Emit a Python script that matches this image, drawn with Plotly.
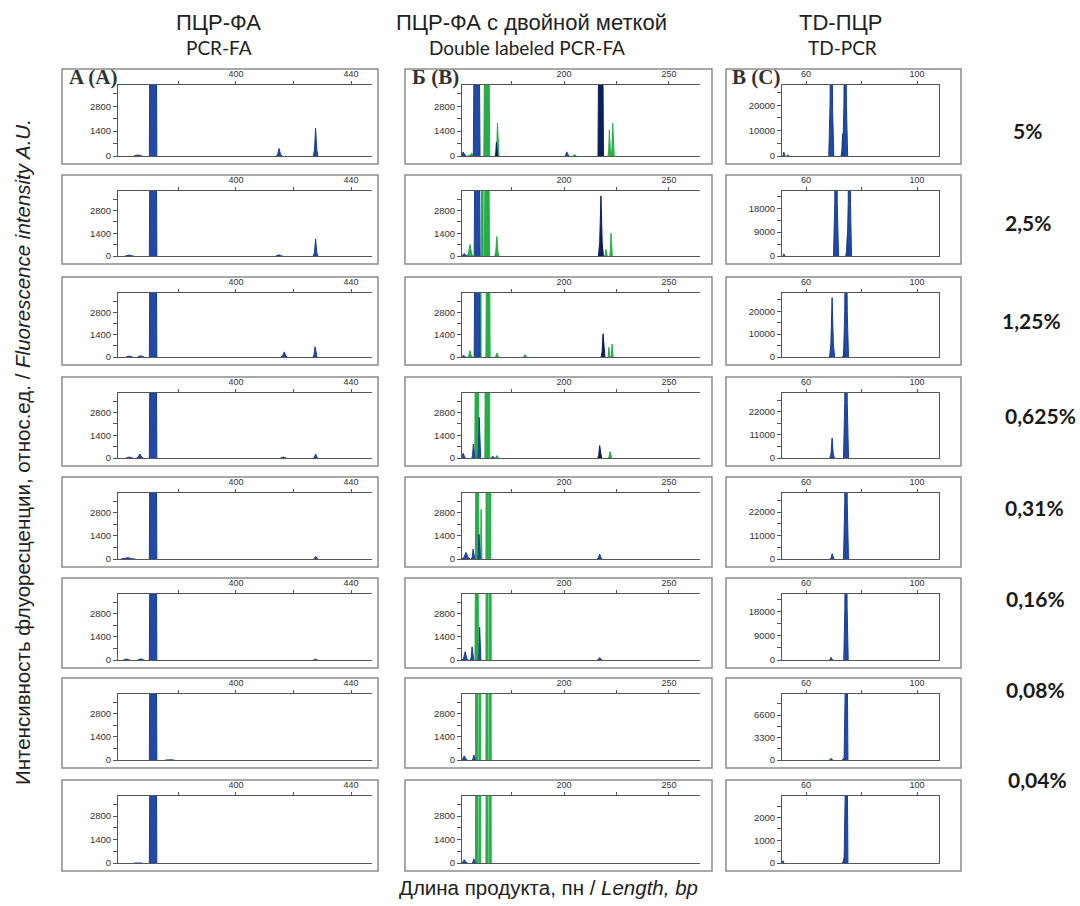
import plotly.graph_objects as go

W, H = 1080, 906

# ---------------------------------------------------------------- data
conc_labels = ["5%", "2,5%", "1,25%", "0,625%", "0,31%", "0,16%", "0,08%", "0,04%"]

# Peaks are (size in bp, height in RFU, half-width in bp)
pcrfa_blue = [
    [(366.0, 60, 1.5), (371.2, 100000, 1.3), (415.0, 420, 1.0), (427.7, 1560, 0.8)],
    [(363.0, 60, 1.5), (371.2, 100000, 1.3), (415.0, 70, 1.2), (427.7, 1050, 0.8)],
    [(363.0, 60, 1.2), (367.0, 80, 1.2), (371.2, 100000, 1.3), (416.8, 320, 1.1), (427.5, 640, 0.7)],
    [(363.0, 60, 1.2), (366.6, 250, 1.2), (371.2, 100000, 1.3), (416.5, 60, 1.0), (427.7, 250, 0.8)],
    [(362.5, 80, 2.5), (371.2, 100000, 1.3), (427.7, 150, 0.8)],
    [(362.0, 60, 1.2), (367.0, 70, 1.2), (371.2, 100000, 1.3), (427.7, 50, 0.8)],
    [(371.2, 100000, 1.3), (377.0, 40, 1.5)],
    [(366.0, 30, 1.5), (371.2, 100000, 1.3)],
]

dual_green = [
    [(156.0, 150, 2.0), (163.2, 60000, 1.4), (168.3, 1850, 0.7), (205.0, 80, 1.0), (221.6, 1460, 0.6), (223.2, 1850, 0.7)],
    [(155.2, 700, 1.5), (161.0, 60000, 0.5), (163.3, 60000, 1.2), (168.0, 1200, 1.0), (220.0, 400, 0.6), (222.4, 1400, 0.6)],
    [(155.2, 400, 1.2), (160.0, 60000, 0.5), (163.8, 60000, 1.0), (168.0, 250, 0.8), (181.4, 150, 1.0), (221.4, 600, 0.5), (222.9, 800, 0.5)],
    [(158.4, 60000, 0.9), (162.9, 60000, 0.6), (164.1, 60000, 0.5), (168.0, 150, 0.8), (221.9, 390, 0.8)],
    [(158.6, 60000, 0.8), (160.5, 3000, 0.4), (163.3, 60000, 0.5), (164.6, 60000, 0.5)],
    [(158.4, 60000, 0.8), (163.3, 60000, 0.5), (164.8, 60000, 0.5)],
    [(158.4, 60000, 0.6), (159.9, 60000, 0.4), (163.3, 60000, 0.5), (164.8, 60000, 0.5)],
    [(158.4, 60000, 0.6), (159.9, 60000, 0.4), (163.3, 60000, 0.5), (164.8, 60000, 0.5)],
]
dual_blue = [
    [(152.0, 230, 1.5), (158.4, 60000, 1.6), (201.3, 230, 1.0)],
    [(152.5, 150, 1.5), (158.6, 60000, 1.4)],
    [(152.0, 100, 1.2), (158.6, 60000, 1.4)],
    [(152.0, 290, 1.2), (156.8, 860, 0.7), (159.6, 2500, 0.7), (166.0, 100, 1.0)],
    [(153.3, 400, 2.0), (156.7, 600, 0.8), (159.5, 1500, 0.6), (217.0, 300, 1.3)],
    [(152.9, 500, 1.5), (156.2, 800, 0.8), (159.8, 2000, 0.6), (217.0, 150, 1.2)],
    [(152.5, 250, 1.5), (157.0, 300, 0.8)],
    [(152.5, 200, 1.5), (157.0, 250, 0.8)],
]
dual_navy = [
    [(167.8, 780, 0.6), (217.5, 60000, 1.3)],
    [(217.6, 3700, 1.2)],
    [(218.6, 1450, 0.9)],
    [(217.0, 760, 0.9)],
    [],
    [],
    [],
    [],
]

td_blue = [
    [(52.0, 1500, 0.4), (53.5, 500, 0.4), (69.1, 90000, 0.9), (73.2, 8800, 0.6), (74.1, 90000, 0.9)],
    [(52.0, 800, 0.4), (70.8, 90000, 0.9), (74.9, 8000, 0.6), (75.6, 90000, 0.8)],
    [(69.4, 26000, 0.9), (73.7, 3000, 0.6), (74.4, 90000, 0.9)],
    [(69.4, 9500, 0.8), (74.4, 120000, 0.9)],
    [(69.4, 2500, 0.7), (74.4, 120000, 0.9)],
    [(69.0, 1000, 0.6), (74.4, 90000, 0.8)],
    [(69.0, 250, 0.6), (73.7, 300, 0.8), (74.4, 40000, 0.7)],
    [(51.7, 100, 0.4), (73.7, 200, 0.8), (74.4, 12000, 0.7)],
]

# axis scales
x_range = {"A": (359.0, 447.3), "B": (151.4, 264.8), "C": (51.35, 107.9)}
x_ticks = {"A": [380, 400, 420, 440], "B": [175, 200, 225, 250], "C": [60, 80, 100]}
x_ticklabels = {"A": ["", "400", "", "440"], "B": ["", "200", "", "250"], "C": ["60", "", "100"]}
fa_y_top = 4000
fa_y_step = 1400
td_y_top = [28000, 24500, 28000, 31000, 31000, 24500, 9700, 2950]
td_y_step = [10000, 9000, 10000, 11000, 11000, 9000, 3300, 1000]

# ---------------------------------------------------------------- layout geometry (px)
row_top = [69, 175, 277, 377, 477, 578, 678, 780]
row_bot = [164, 264, 365, 466, 567, 668, 768, 871]
label_x = [1027, 1028, 1031, 1040, 1034, 1035, 1035, 1037]
label_y = [131, 222, 321, 415, 507, 598, 689, 779]
box_x = {"A": (62, 378), "B": (405, 712), "C": (726, 961)}
plot_x = {"A": (118, 372), "B": (462, 700), "C": (782, 939)}

BLUE = "#2049a8"
BLUE_EDGE = "#183c92"
NAVY = "#0b1f5e"
GREEN = "#27ad48"
AXIS = "#555555"
FRAME = "#8c8c8c"


def fx(p):
    return p / W


def fy(p):
    return 1 - p / H


def peak_path(peaks):
    xs, ys = [], []
    for pos, h, w in sorted(peaks):
        xs += [pos - w, pos - 0.5 * w, pos, pos + 0.5 * w, pos + w, None]
        ys += [0, 0.22 * h, h, 0.22 * h, 0, None]
    return xs, ys


fig = go.Figure()
layout = {}
idx = 0
for r in range(8):
    y0 = fy(row_bot[r] - 8)
    y1 = fy(row_top[r] + 16)
    for col in ["A", "B", "C"]:
        idx += 1
        xa = "x" if idx == 1 else f"x{idx}"
        ya = "y" if idx == 1 else f"y{idx}"
        xkey = "xaxis" if idx == 1 else f"xaxis{idx}"
        ykey = "yaxis" if idx == 1 else f"yaxis{idx}"

        if col == "A":
            series = [(pcrfa_blue[r], BLUE, BLUE_EDGE)]
            top, step = fa_y_top, fa_y_step
        elif col == "B":
            series = [(dual_green[r], GREEN, GREEN), (dual_blue[r], BLUE, BLUE_EDGE), (dual_navy[r], NAVY, NAVY)]
            top, step = fa_y_top, fa_y_step
        else:
            series = [(td_blue[r], BLUE, BLUE_EDGE)]
            top, step = td_y_top[r], td_y_step[r]

        for peaks, fillc, linec in series:
            if not peaks:
                continue
            xs, ys = peak_path(peaks)
            fig.add_trace(go.Scatter(
                x=xs, y=ys, xaxis=xa, yaxis=ya, mode="lines",
                fill="toself", fillcolor=fillc,
                line=dict(color=linec, width=1),
                hoverinfo="skip", showlegend=False,
            ))

        px0, px1 = plot_x[col]
        layout[xkey] = dict(
            domain=[fx(px0), fx(px1)], anchor=ya, side="top",
            range=list(x_range[col]), showgrid=False, zeroline=False,
            showline=True, linecolor=AXIS, linewidth=1, mirror=True,
            ticks="outside", ticklen=3, tickcolor=AXIS,
            tickvals=x_ticks[col], ticktext=x_ticklabels[col],
            tickfont=dict(family="Liberation Sans, Arial", size=9, color="#333"),
            automargin=False, fixedrange=True,
        )
        yvals = [step * k / 2 for k in range(0, 7) if step * k / 2 <= top]
        ytext = [f"{int(v)}" if k % 2 == 0 else "" for k, v in enumerate(yvals)]
        layout[ykey] = dict(
            domain=[y0, y1], anchor=xa, range=[0, top],
            showgrid=False, zeroline=False,
            showline=True, linecolor=AXIS, linewidth=1,
            mirror=(col == "C"),
            ticks="outside", ticklen=4, tickcolor=AXIS,
            tickvals=yvals, ticktext=ytext,
            tickfont=dict(family="Liberation Sans, Arial", size=9.5, color="#333"),
            automargin=False, fixedrange=True,
        )

shapes = []
for r in range(8):
    for col in ["A", "B", "C"]:
        bx0, bx1 = box_x[col]
        shapes.append(dict(
            type="rect", xref="paper", yref="paper",
            x0=fx(bx0), x1=fx(bx1), y0=fy(row_bot[r]), y1=fy(row_top[r]),
            line=dict(color=FRAME, width=1.5), fillcolor="rgba(0,0,0,0)", layer="below",
        ))

annotations = []


def text(s, x, y, size, family, color="#222", bold=False, angle=0, xanchor="center"):
    annotations.append(dict(
        text=f"<b>{s}</b>" if bold else s, x=fx(x), y=fy(y), xref="paper", yref="paper",
        showarrow=False, xanchor=xanchor, yanchor="middle", textangle=angle,
        font=dict(family=family, size=size, color=color),
    ))


SANS = "Liberation Sans, Arial"
CAL = "Lato, Open Sans"
SERIF = "Liberation Serif, Times New Roman"

text("ПЦР-ФА", 218, 22, 22, SANS)
text("PCR-FA", 219, 47, 19, CAL)
text("ПЦР-ФА с двойной меткой", 531, 22, 22, SANS)
text("Double labeled PCR-FA", 527, 47, 19, CAL)
text("TD-ПЦР", 840, 22, 22, SANS)
text("TD-PCR", 842, 47, 19, CAL)

text("A (A)", 93, 77, 21, SERIF, color="#333", bold=True)
text("Б (В)", 435, 77, 21, SERIF, color="#333", bold=True)
text("B (C)", 756, 77, 21, SERIF, color="#333", bold=True)

for lab, xx, yy in zip(conc_labels, label_x, label_y):
    text(lab, xx, yy, 21, CAL, color="#1a1a1a", bold=True)

text("Длина продукта, пн / <i>Length, bp</i>", 548, 887, 20.5, SANS)
text("Интенсивность флуоресценции, относ.ед. / <i>Fluorescence intensity A.U.</i>",
     22, 452, 20.5, SANS, angle=-90)

fig.update_layout(
    width=W, height=H, margin=dict(l=0, r=0, t=0, b=0),
    paper_bgcolor="white", plot_bgcolor="white",
    shapes=shapes, annotations=annotations, showlegend=False,
    **layout,
)

fig.write_html("out.html")
